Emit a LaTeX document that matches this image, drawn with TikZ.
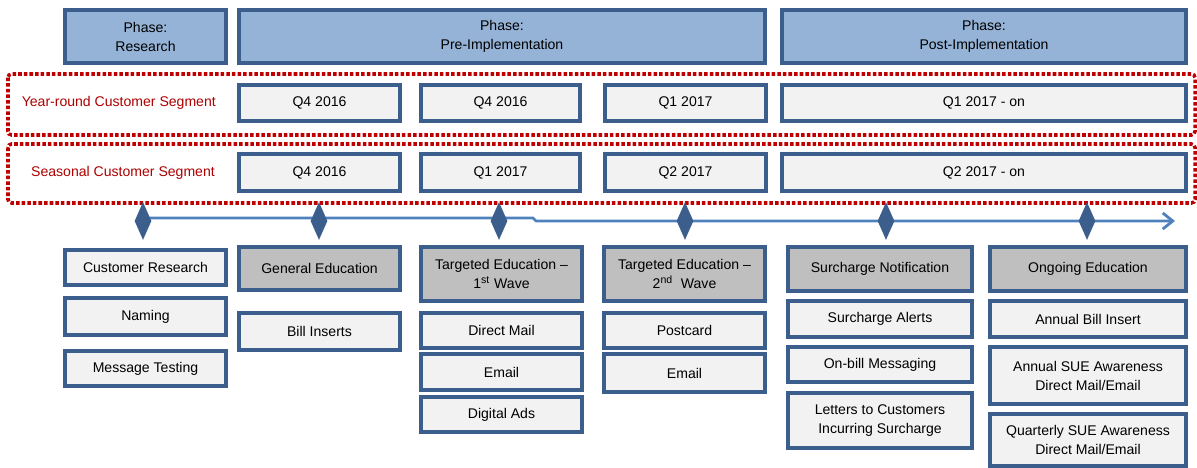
\documentclass[tikz,border=0pt]{standalone}
\usepackage{fontspec}
\setmainfont{Liberation Sans}
\usetikzlibrary{arrows.meta,positioning,shapes.geometric,backgrounds}
\definecolor{boxblue}{RGB}{59,94,140}
\definecolor{phaseblue}{RGB}{149,179,215}
\definecolor{paleface}{RGB}{242,242,242}
\definecolor{headgray}{RGB}{191,191,191}
\definecolor{segred}{RGB}{192,0,0}
\definecolor{lineblue}{RGB}{79,129,189}

\begin{document}
\begin{tikzpicture}[
  x=0.02cm, y=-0.02cm,
  boxw/.style={minimum width=#1*0.02cm-2.2pt},
  boxh/.style={minimum height=#1*0.02cm-2.2pt},
  tile/.style={draw=boxblue, line width=2.2pt, fill=#1, inner sep=1pt, align=center, font=\fontsize{8}{10.8}\selectfont},
  tile/.default=paleface,
  phase/.style={tile=phaseblue},
  head/.style={tile=headgray},
  segment/.style={draw=segred, line width=2pt, dash pattern=on 2pt off 1.2pt, rounded corners=2pt},
  seglabel/.style={text=segred!90!black, anchor=east, font=\fontsize{8}{10.8}\selectfont},
  marker/.style={diamond, fill=boxblue, minimum width=0.34cm, minimum height=0.76cm, inner sep=0pt},
  timeline/.style={draw=lineblue, line width=1.6pt, -{Straight Barb[length=2mm,width=3.2mm]}},
]
  \useasboundingbox (0,0) rectangle (1197,467);

  % phases
  \node[phase, boxw=165, boxh=57] (res)  at (145.5,36.5) {Phase:\\Research};
  \node[phase, boxw=530, boxh=57] (pre)  at (502,36.5)   {Phase:\\Pre-Implementation};
  \node[phase, boxw=408, boxh=57] (post) at (984,36.5)   {Phase:\\Post-Implementation};

  % customer segments
  \draw[segment] (8,74) rectangle (1195,135);
  \draw[segment] (8,144) rectangle (1195,203);
  \node[seglabel] (yrlab) at (222,103)   {Year-round Customer Segment};
  \node[seglabel] (selab) at (221,172.5) {Seasonal Customer Segment};

  \node[tile, boxw=165, boxh=40] (yr1) at (319.5,103) {Q4 2016};
  \node[tile, boxw=163, boxh=40] (yr2) at (500.5,103) {Q4 2016};
  \node[tile, boxw=165, boxh=40] (yr3) at (685.5,103) {Q1 2017};
  \node[tile, boxw=408, boxh=40] (yr4) at (984,103)   {Q1 2017 - on};

  \node[tile, boxw=165, boxh=41] (se1) at (319.5,172.5) {Q4 2016};
  \node[tile, boxw=163, boxh=41] (se2) at (500.5,172.5) {Q1 2017};
  \node[tile, boxw=165, boxh=41] (se3) at (685.5,172.5) {Q2 2017};
  \node[tile, boxw=408, boxh=41] (se4) at (984,172.5)   {Q2 2017 - on};

  % timeline
  \node[marker] (m1) at (143,221) {};
  \node[marker] (m2) at (319,221) {};
  \node[marker] (m3) at (499,221) {};
  \node[marker] (m4) at (685,221) {};
  \node[marker] (m5) at (886,221) {};
  \node[marker] (m6) at (1087,221) {};
  \coordinate (tstep) at (533,218);
  \coordinate (tend) at (1175,221);
  \begin{scope}[on background layer]
    \draw[timeline] (m1.center) |- (tstep) -- ++(3,3) -- (tend);
  \end{scope}

  % research
  \node[tile, boxw=165, boxh=39] (cres) at (145.5,267.5) {Customer Research};
  \node[tile, boxw=165, boxh=41] (name) at (145.5,316.5) {Naming};
  \node[tile, boxw=165, boxh=39] (mtest) at (145.5,368.5) {Message Testing};

  % general education
  \node[head, boxw=165, boxh=47] (gen)  at (319.5,268.5) {General Education};
  \node[tile, boxw=165, boxh=41] (bill) at (319.5,331.5) {Bill Inserts};

  % targeted education, 1st wave
  \node[head, boxw=165, boxh=58] (tgt1)  at (501.5,274) {Targeted Education --\\1\textsuperscript{st} Wave};
  \node[tile, boxw=165, boxh=39] (dmail) at (501.5,330.5) {Direct Mail};
  \node[tile, boxw=165, boxh=40] (mail1) at (501.5,372)   {Email};
  \node[tile, boxw=165, boxh=39] (ads)   at (501.5,414.5) {Digital Ads};

  % targeted education, 2nd wave
  \node[head, boxw=165, boxh=58] (tgt2)  at (684.5,274) {Targeted Education --\\2\textsuperscript{nd}\ \ Wave};
  \node[tile, boxw=165, boxh=39] (card)  at (684.5,330.5) {Postcard};
  \node[tile, boxw=165, boxh=42] (mail2) at (684.5,373)   {Email};

  % surcharge notification
  \node[head, boxw=188, boxh=48] (surn)  at (880,269)   {Surcharge Notification};
  \node[tile, boxw=188, boxh=40] (alert) at (880,319)   {Surcharge Alerts};
  \node[tile, boxw=188, boxh=39] (obill) at (880,364.5) {On-bill Messaging};
  \node[tile, boxw=188, boxh=59] (lett)  at (880,420.5) {Letters to Customers\\Incurring Surcharge};

  % ongoing education
  \node[head, boxw=200, boxh=48] (ongo) at (1088,269)   {Ongoing Education};
  \node[tile, boxw=200, boxh=40] (abi)  at (1088,319)   {Annual Bill Insert};
  \node[tile, boxw=200, boxh=61] (asue) at (1088,375.5) {Annual SUE Awareness\\Direct Mail/Email};
  \node[tile, boxw=200, boxh=56] (qsue) at (1088,440)   {Quarterly SUE Awareness\\Direct Mail/Email};
\end{tikzpicture}
\end{document}
